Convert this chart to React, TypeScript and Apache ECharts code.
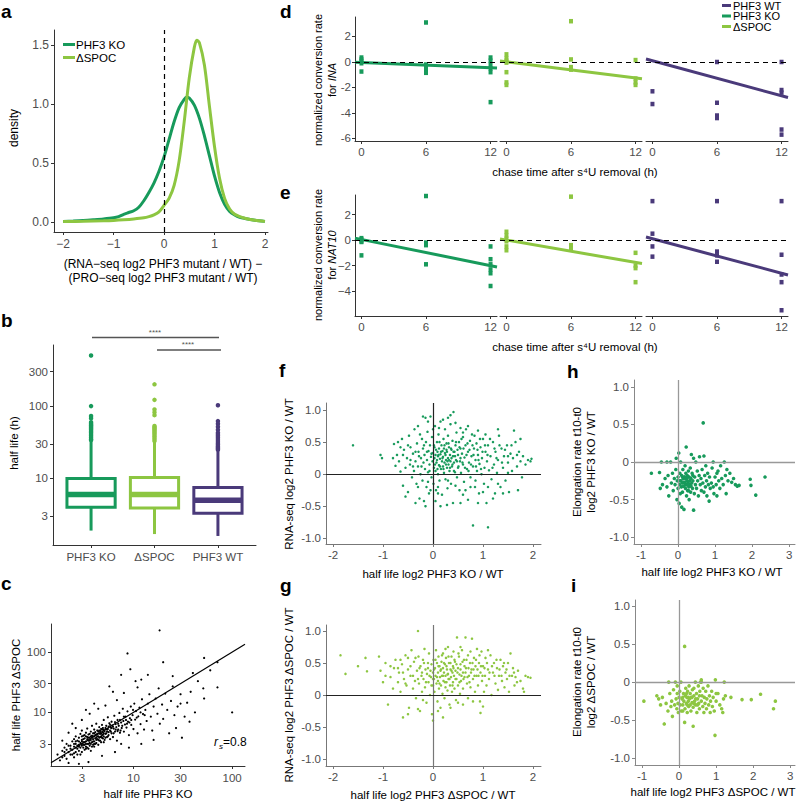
import React, { useEffect, useRef } from 'react';
import * as echarts from 'echarts';

const FONT = '"Liberation Sans", Arial, Helvetica, sans-serif';
const C_KO = '#179a5b';
const C_SPOC = '#8dc641';
const C_WT = '#4a3a7a';
const TICK = '#4d4d4d';

// ---------- panel a : density curves ----------
const densKO: number[][] = [[-2,0.005],[-1.8,0.008],[-1.6,0.012],[-1.4,0.018],[-1.2,0.025],[-1,0.035],[-0.9,0.045],[-0.8,0.065],[-0.7,0.08],[-0.6,0.095],[-0.5,0.125],[-0.4,0.18],[-0.3,0.25],[-0.2,0.33],[-0.1,0.43],[0,0.55],[0.1,0.7],[0.2,0.85],[0.3,0.97],[0.4,1.04],[0.45,1.06],[0.5,1.05],[0.6,0.99],[0.7,0.88],[0.8,0.73],[0.9,0.56],[1.0,0.39],[1.1,0.25],[1.2,0.15],[1.3,0.09],[1.4,0.06],[1.5,0.04],[1.6,0.03],[1.8,0.015],[2,0.005]];
const densSPOC: number[][] = [[-2,0.004],[-1.6,0.006],[-1.2,0.01],[-1,0.013],[-0.8,0.018],[-0.6,0.025],[-0.4,0.035],[-0.3,0.045],[-0.2,0.06],[-0.1,0.085],[0,0.14],[0.1,0.2],[0.2,0.31],[0.3,0.52],[0.4,0.85],[0.5,1.22],[0.6,1.48],[0.65,1.54],[0.7,1.52],[0.8,1.33],[0.9,0.98],[1.0,0.64],[1.1,0.37],[1.2,0.2],[1.3,0.11],[1.4,0.065],[1.5,0.045],[1.6,0.032],[1.8,0.015],[2,0.005]];
const aTicksX = [-2, -1, 0, 1, 2];
const aTicksY = [0, 0.5, 1, 1.5];

// ---------- panel b : half-life boxplots ----------
const bCategories = ['PHF3 KO', 'ΔSPOC', 'PHF3 WT'];
// [lower whisker, Q1, median, Q3, upper whisker]
const bBoxKO = [1.9, 4.0, 6.0, 10.0, 33];
const bBoxSPOC = [1.7, 3.9, 6.0, 10.3, 32];
const bBoxWT = [1.6, 3.3, 5.0, 7.5, 24];
const bOutKO = [500, 100, 73, 68, 60, 57, 55, 53, 51, 49, 47, 45, 43, 41, 39, 37, 35, 34];
const bOutSPOC = [200, 122, 90, 82, 75, 53, 51, 49, 47, 45, 43, 41, 39, 37, 35, 33];
const bOutWT = [103, 62, 57, 52, 47, 43, 41, 39, 37, 35, 33, 31, 29.5, 28, 27, 26, 25];
const bTicks = [3, 10, 30, 100, 300];

// ---------- panel c : half life KO vs ΔSPOC ----------
const cTicks = [3, 10, 30, 100];
const cFit = { slope: 1.0, intercept: 0.0 }; // in log10 space
const cPts: number[][] = [
[1.8,1.6],[1.9,2.3],[2.0,1.9],[2.0,2.6],[2.1,1.7],[2.1,3.0],[2.2,2.2],[2.2,4.6],[2.3,2.0],[2.3,2.8],[2.4,2.4],[2.4,3.3],[2.5,1.8],[2.5,2.7],[2.5,3.6],[2.6,2.2],[2.6,3.0],[2.6,4.0],[2.7,2.5],[2.7,3.4],[2.7,2.0],[2.8,2.9],[2.8,3.8],[2.8,2.3],[2.9,3.1],[2.9,2.6],[2.9,4.4],[3.0,2.8],[3.0,3.5],[3.0,2.2],[3.0,5.0],[3.1,3.2],[3.1,2.6],[3.1,4.1],[3.2,2.9],[3.2,3.7],[3.2,2.4],[3.3,3.3],[3.3,4.6],[3.3,2.7],[3.4,3.0],[3.4,3.9],[3.4,5.4],[3.5,2.5],[3.5,3.4],[3.5,4.3],[3.6,3.1],[3.6,2.8],[3.6,3.8],[3.7,4.8],[3.7,3.5],[3.7,2.3],[3.8,3.2],[3.8,4.1],[3.8,6.0],[3.9,3.6],[3.9,2.9],[3.9,4.5],[4.0,3.3],[4.0,4.0],[4.0,5.2],[4.0,2.7],[4.1,3.7],[4.1,4.7],[4.2,3.1],[4.2,4.3],[4.2,6.5],[4.3,3.6],[4.3,5.0],[4.4,4.0],[4.4,2.9],[4.5,4.5],[4.5,3.4],[4.5,5.7],[4.6,3.9],[4.6,4.9],[4.7,3.2],[4.7,5.3],[4.8,4.2],[4.8,6.2],[4.9,3.7],[4.9,4.7],[5.0,5.1],[5.0,4.0],[5.0,7.5],[5.1,3.5],[5.2,5.5],[5.2,4.4],[5.3,6.0],[5.4,3.9],[5.4,4.8],[5.5,5.3],[5.5,8.3],[5.6,4.2],[5.7,6.6],[5.8,5.0],[5.8,3.6],[5.9,5.6],[6.0,4.5],[6.0,7.0],[6.1,6.1],[6.2,3.9],[6.3,5.4],[6.4,8.8],[6.5,4.8],[6.6,6.4],[6.7,5.7],[6.8,3.4],[6.9,7.5],[7.0,5.2],[7.1,6.0],[7.2,9.8],[7.3,4.6],[7.5,6.8],[7.6,5.5],[7.8,11.5],[7.9,7.2],[8.0,4.8],[8.2,6.3],[8.3,8.5],[8.5,5.6],[8.7,10.4],[8.8,7.0],[9.0,4.2],[9.2,8.0],[9.4,12.5],[9.5,6.2],[9.8,9.0],[10.0,5.3],[10.2,14.0],[10.4,7.6],[10.6,10.5],[11.0,4.5],[11.2,8.6],[11.5,12.0],[11.8,6.4],[12.2,16.5],[12.5,9.4],[12.8,5.2],[13.2,11.0],[13.6,7.2],[14.0,14.0],[14.5,20.0],[15.0,8.5],[15.5,5.0],[16.0,12.5],[16.8,17.0],[17.5,9.5],[18.0,25.0],[18.5,6.5],[19.5,13.5],[20.0,7.8],[21.0,20.5],[22.0,11.0],[23.0,4.5],[24.0,15.5],[25.0,27.0],[26.0,9.0],[27.0,5.5],[28.0,12.5],[30.0,20.0],[31.0,3.8],[33.0,8.5],[35.0,14.5],[37.0,7.0],[40.0,45.0],[42.0,10.0],[52.0,80.0],[52.0,17.0],[51.0,25.0],[71.0,68.0],[71.0,26.0],[100.0,10.0],[18.4,230],[8.7,95],[20,68],[9.3,52],[7.5,42],[5.7,27],[12,35],[14,42],[3.3,11],[2.4,6.5],[4.0,14],[6.2,22],[10.5,33],[16,3.5],[12,3.0],[9,2.6],[6.5,2.2],[4.8,1.9],[3.5,1.5],[2.8,1.4],[7.5,3.0],[2.2,1.45],[1.7,2.0],[1.9,3.4],[2.6,5.5],[3.0,7.5],[3.6,9.5],[4.4,11.5],[5.2,13.0],[6.8,16.0],[8.0,21.0],[11.0,26.0],[25,40],[45,33],[30,14],[38,22],[60,50],
[2.5,2.1],[2.6,2.6],[2.8,2.7],[3.0,3.0],[3.1,3.6],[3.2,3.2],[3.3,2.5],[3.4,3.6],[3.5,3.0],[3.6,4.4],[3.7,3.0],[3.8,3.8],[3.9,3.3],[4.0,4.5],[4.1,3.0],[4.2,3.8],[4.3,4.4],[4.4,3.5],[4.5,5.0],[4.6,4.4],[4.7,4.0],[4.8,5.2],[4.9,4.3],[5.0,3.2],[5.1,4.9],[5.3,4.5],[5.5,4.0],[5.6,5.8],[5.9,4.8],[6.2,5.8],[6.5,6.9],[6.9,4.9],[7.3,7.5],[7.7,6.0],[8.4,7.5],[9.1,6.8],[9.9,11.0],[10.8,8.2],[11.8,10.0],[13.0,9.0],
[2.4,2.0],[2.5,3.0],[2.7,2.8],[2.8,3.3],[2.9,2.0],[3.0,3.3],[3.1,2.9],[3.2,4.2],[3.3,3.0],[3.4,2.6],[3.5,3.8],[3.6,3.4],[3.7,4.0],[3.8,2.7],[3.9,4.0],[4.0,3.0],[4.1,4.2],[4.2,3.5],[4.3,4.0],[4.4,4.8],[4.5,3.8],[4.6,3.4],[4.7,4.5],[4.8,3.8],[4.9,5.5],[5.0,4.5],[5.2,3.8],[5.4,5.2],[5.6,4.7],[5.8,6.2],[6.0,5.5],[6.3,4.5],[6.6,5.2],[7.0,6.5],[7.4,5.0],[8.0,8.5],[8.6,6.5],[9.5,7.5],[3.0,4.0],[3.3,4.0],[2.6,3.3],[2.3,2.5],[2.0,2.2],[1.9,1.8],[2.1,2.4],[2.2,2.8]
];

// ---------- panels d / e : conversion rate vs chase time ----------
const chaseTicks = [0, 6, 12];
const dKO: number[][] = [[0,0.35],[0,0.2],[0,0.05],[0,-0.1],[0,-0.75],[6,3.1],[6,-0.2],[6,-0.5],[6,-0.65],[6,-0.85],[12,0.35],[12,0.1],[12,-0.2],[12,-0.5],[12,-0.8],[12,-3.15]];
const dSPOC: number[][] = [[0,0.6],[0,0.3],[0,0.1],[0,-0.05],[0,-0.8],[0,-1.6],[0,-1.8],[6,3.2],[6,0.2],[6,-0.4],[6,-0.6],[12,0.15],[12,-1.3],[12,-1.6],[12,-1.8]];
const dWT: number[][] = [[0,-2.3],[0,-3.3],[6,0],[6,-3.2],[6,-4.2],[6,-4.4],[12,0],[12,-2.2],[12,-2.4],[12,-5.3],[12,-5.7]];
const eKO: number[][] = [[0,0.15],[0,0.05],[0,-0.1],[0,-0.15],[0,-1.2],[6,3.45],[6,-0.2],[6,-0.4],[6,-1.9],[12,-0.5],[12,-1.5],[12,-1.9],[12,-2.3],[12,-2.6],[12,-3.6]];
const eSPOC: number[][] = [[0,0.65],[0,0.35],[0,0.1],[0,-0.1],[0,-0.5],[0,-0.8],[6,3.4],[6,-0.4],[6,-0.7],[12,-1.0],[12,-2.0],[12,-2.2],[12,-3.3]];
const eWT: number[][] = [[0,3.05],[0,0.5],[0,-0.5],[0,-1.3],[6,3.05],[6,-0.9],[6,-1.2],[6,-1.7],[12,3.05],[12,-1.15],[12,-2.7],[12,-3.3],[12,-5.5]];
// linear fits: [intercept, slope per h]
const dFitKO = [-0.05, -0.033];
const dFitSPOC = [0.02, -0.106];
const dFitWT = [0.1, -0.229];
const eFitKO = [0.05, -0.171];
const eFitSPOC = [0.0, -0.146];
const eFitWT = [0.1, -0.225];

// ---------- panels f / g ----------
const fPts: number[][] = [
[-1.6,0.45],[-1.05,0.3],[-1.02,0.25],[-0.78,0.47],[-0.75,0.13],[-0.72,0.3],[-0.7,0.5],[-0.68,0.2],[-0.65,0.04],[-0.62,0.55],[-0.6,-0.18],[-0.58,0.38],[-0.55,0.1],[-0.52,0.25],[-0.5,-0.28],[-0.48,0.6],[-0.46,0.15],[-0.45,0.42],[-0.42,-0.05],[-0.4,0.32],[-0.38,0.05],[-0.37,0.7],[-0.35,0.2],[-0.33,-0.15],[-0.32,0.48],[-0.3,0.12],[-0.29,0.35],[-0.27,-0.38],[-0.26,0.62],[-0.25,0.0],[-0.24,0.25],[-0.22,0.55],[-0.21,-0.1],[-0.2,0.4],[-0.19,0.18],[-0.18,-0.42],[-0.17,0.3],[-0.16,0.08],[-0.15,0.88],[-0.14,0.5],[-0.13,-0.2],[-0.12,0.22],[-0.11,0.66],[-0.1,0.03],[-0.09,0.36],[-0.08,-0.3],[-0.07,0.15],[-0.06,0.45],[-0.05,0.9],[-0.04,0.27],[-0.03,-0.05],[-0.02,0.58],[-0.01,0.2],[0.0,0.33],[0.01,-0.15],[0.02,0.1],[0.03,0.42],[0.03,0.25],[0.04,0.75],[0.05,0.05],[0.05,0.3],[0.06,-0.25],[0.07,0.18],[0.08,0.5],[0.08,0.22],[0.09,0.35],[0.1,0.0],[0.1,0.28],[0.11,0.62],[0.12,0.14],[0.12,0.4],[0.13,-0.1],[0.14,0.24],[0.15,0.31],[0.15,0.82],[0.16,0.08],[0.17,0.45],[0.18,0.2],[0.18,-0.32],[0.19,0.36],[0.2,0.12],[0.2,0.27],[0.21,0.55],[0.22,0.02],[0.22,0.4],[0.23,0.18],[0.24,0.7],[0.25,0.3],[0.25,-0.08],[0.26,0.22],[0.27,0.48],[0.28,0.1],[0.28,0.35],[0.29,-0.22],[0.3,0.25],[0.3,0.6],[0.31,0.15],[0.32,0.42],[0.33,0.05],[0.34,0.3],[0.35,0.78],[0.35,0.2],[0.36,-0.15],[0.37,0.38],[0.38,0.12],[0.39,0.52],[0.4,0.28],[0.4,-0.45],[0.41,0.97],[0.42,0.18],[0.43,0.35],[0.44,0.03],[0.45,0.45],[0.46,0.22],[0.47,0.65],[0.48,-0.05],[0.5,0.3],[0.5,0.1],[0.52,0.5],[0.53,-0.25],[0.54,0.2],[0.55,0.4],[0.56,0.02],[0.58,0.32],[0.6,0.58],[0.6,0.15],[0.62,-0.12],[0.63,0.26],[0.65,0.45],[0.66,0.7],[0.68,0.08],[0.7,0.35],[0.7,-0.4],[0.72,0.18],[0.74,0.52],[0.75,-0.05],[0.77,0.28],[0.78,0.62],[0.8,0.12],[0.8,-0.8],[0.82,0.4],[0.84,-0.2],[0.85,0.22],[0.87,0.48],[0.88,0.05],[0.9,0.3],[0.92,-0.3],[0.93,0.16],[0.95,0.42],[0.97,0.0],[0.98,0.25],[1.0,0.55],[1.02,-0.15],[1.03,0.1],[1.05,0.35],[1.07,-0.45],[1.08,0.2],[1.1,-0.83],[1.1,0.45],[1.12,0.06],[1.15,0.28],[1.17,-0.08],[1.2,0.5],[1.22,0.15],[1.24,-0.3],[1.25,0.35],[1.28,0.02],[1.3,0.22],[1.32,0.6],[1.35,-0.2],[1.37,0.4],[1.4,0.1],[1.42,0.28],[1.45,-0.1],[1.48,0.45],[1.5,0.18],[1.52,-0.28],[1.55,0.32],[1.58,0.05],[1.6,0.25],[1.62,0.68],[1.65,0.5],[1.68,0.12],[1.7,-0.25],[1.72,0.35],[1.75,0.2],[1.78,-0.05],[1.8,0.28],[1.85,0.15],[1.9,0.22],[1.95,0.2],[1.97,0.24],
[-0.35,-0.45],[-0.15,-0.5],[0.05,-0.42],[0.15,-0.5],[0.28,-0.48],[0.55,-0.45],[0.9,-0.45],[1.2,-0.38],[1.4,-0.3],[-0.55,-0.35],[-0.05,-0.25],[0.1,-0.2],[0.6,-0.32],[0.75,-0.2],[1.0,-0.28],
[-0.3,0.75],[-0.1,0.82],[0.0,0.7],[0.12,0.72],[0.2,0.85],[0.3,0.88],[0.45,0.8],[0.55,0.72],[0.7,0.75],[0.9,0.68],[1.05,0.62],[1.3,0.7],[0.35,0.92],[-0.2,0.9],[0.6,0.65],
[-0.28,0.28],[-0.23,0.12],[-0.18,0.45],[-0.12,0.35],[-0.07,0.05],[-0.03,0.32],[0.02,0.45],[0.04,0.15],[0.06,0.38],[0.09,0.08],[0.11,0.3],[0.13,0.5],[0.14,0.12],[0.16,0.35],[0.19,0.25],[0.21,0.08],[0.23,0.45],[0.24,0.33],[0.26,0.15],[0.27,0.38],[0.29,0.2],[0.31,0.48],[0.32,0.22],[0.34,0.1],[0.36,0.4],[0.37,0.25],[0.39,0.15],[0.41,0.35],[0.42,0.05],[0.44,0.28],[0.46,0.5],[0.48,0.2],[0.49,0.38],[0.51,0.12],[0.53,0.42],[0.55,0.25],[0.57,0.55],[0.59,0.18],[0.61,0.4],[0.64,0.1],[0.67,0.3],[0.69,0.48],[0.71,0.05],[0.73,0.38],[0.76,0.15],[0.79,0.45],[0.81,0.3],[0.83,0.6],[0.86,0.12],[0.89,0.38],[0.91,0.22],[0.94,0.55],[0.96,0.08],[0.99,0.35],[1.04,0.45],[1.09,0.3],[1.14,0.55],[1.19,0.1],[1.23,0.4],[1.27,0.25],[1.33,0.45],[1.38,0.18],[1.44,0.38],[1.5,0.28],[1.57,0.45],[-0.45,0.22],[-0.5,0.45],[-0.4,0.12],[-0.35,0.35],[-0.6,0.3],[-0.65,0.42],[-0.8,0.25],[-0.3,-0.2],[-0.1,-0.12],[0.1,-0.3],[0.3,-0.1],[0.45,-0.18],[0.65,-0.25],[0.85,-0.1],[1.1,-0.2],[1.3,-0.15],[1.5,0.02],[1.68,0.3],[1.75,0.55]
];
const gPts: number[][] = [
[-1.85,0.62],[-1.75,0.33],[-1.5,0.45],[-1.35,0.58],[-1.32,0.37],[-1.08,0.6],[-1.05,0.38],[-1.0,0.2],[-0.95,0.5],[-0.9,-0.15],[-0.85,0.28],[-0.8,0.1],[-0.78,0.42],[-0.75,0.55],[-0.7,0.2],[-0.68,0.35],[-0.65,0.05],[-0.62,0.48],[-0.6,-0.35],[-0.58,0.25],[-0.55,0.62],[-0.53,0.15],[-0.5,0.4],[-0.48,-0.2],[-0.45,0.3],[-0.43,0.7],[-0.4,0.1],[-0.38,0.52],[-0.36,0.22],[-0.34,-0.05],[-0.32,0.38],[-0.3,1.0],[-0.29,0.6],[-0.28,0.18],[-0.26,-0.25],[-0.25,0.45],[-0.23,0.3],[-0.22,0.05],[-0.2,0.55],[-0.19,0.25],[-0.17,0.72],[-0.16,0.12],[-0.15,0.4],[-0.13,-0.12],[-0.12,0.33],[-0.1,0.5],[-0.09,0.2],[-0.08,0.65],[-0.06,0.0],[-0.05,0.38],[-0.04,0.28],[-0.03,0.48],[-0.02,-0.3],[0.0,0.15],[0.0,0.35],[0.0,-0.4],[0.01,0.55],[0.02,0.25],[0.03,0.05],[0.04,0.42],[0.05,0.3],[0.06,0.7],[0.07,0.18],[0.08,0.5],[0.09,-0.1],[0.1,0.35],[0.1,0.22],[0.11,0.6],[0.12,0.1],[0.13,0.45],[0.14,0.28],[0.15,-0.2],[0.15,0.38],[0.16,0.15],[0.17,0.52],[0.18,0.3],[0.19,0.02],[0.2,0.42],[0.2,0.65],[0.21,0.22],[0.22,0.35],[0.23,-0.05],[0.24,0.48],[0.25,0.12],[0.25,0.3],[0.26,0.58],[0.27,0.2],[0.28,0.4],[0.29,0.07],[0.3,0.33],[0.3,0.75],[0.31,0.25],[0.32,0.5],[0.33,-0.15],[0.34,0.15],[0.35,0.4],[0.36,0.28],[0.37,0.6],[0.38,0.05],[0.39,0.35],[0.4,0.45],[0.4,0.2],[0.41,0.68],[0.42,0.3],[0.43,0.1],[0.44,0.52],[0.45,0.38],[0.46,-0.08],[0.47,0.25],[0.48,0.9],[0.5,0.42],[0.5,0.15],[0.52,0.6],[0.53,0.32],[0.54,0.02],[0.55,0.48],[0.56,0.22],[0.58,0.7],[0.6,0.35],[0.6,0.1],[0.62,0.55],[0.63,0.28],[0.65,0.9],[0.66,0.42],[0.68,0.18],[0.7,0.62],[0.7,-0.05],[0.72,0.3],[0.74,0.5],[0.75,0.12],[0.77,0.4],[0.78,0.88],[0.8,0.25],[0.82,0.58],[0.84,0.05],[0.85,0.45],[0.87,0.3],[0.88,0.72],[0.9,0.15],[0.92,0.5],[0.94,-0.1],[0.95,0.35],[0.97,0.68],[0.98,0.22],[1.0,0.45],[1.02,0.05],[1.04,0.3],[1.05,0.58],[1.07,0.15],[1.1,0.4],[1.12,0.25],[1.15,0.62],[1.17,0.0],[1.2,0.35],[1.22,0.5],[1.25,0.18],[1.28,0.42],[1.3,0.08],[1.32,0.3],[1.35,0.55],[1.38,0.22],[1.4,0.45],[1.43,0.12],[1.45,0.35],[1.48,0.25],[1.5,0.5],[1.52,0.05],[1.55,0.65],[1.58,0.3],[1.6,0.42],[1.63,0.15],[1.65,0.28],[1.7,0.38],[1.75,0.22],[1.8,0.1],[1.82,0.05],[1.85,0.3],[1.9,0.28],[1.95,0.27],
[-0.5,-0.3],[-0.3,-0.22],[0.1,-0.25],[0.2,-0.35],[0.35,-0.2],[0.5,-0.12],[0.8,-0.1],[0.95,-0.28],[1.0,-0.18],[-0.2,-0.08],[0.6,-0.15],
[-0.45,0.45],[-0.4,0.3],[-0.35,0.58],[-0.3,0.25],[-0.27,0.42],[-0.22,0.35],[-0.18,0.5],[-0.14,0.2],[-0.1,0.42],[-0.07,0.3],[-0.03,0.15],[0.02,0.4],[0.05,0.55],[0.08,0.28],[0.11,0.45],[0.13,0.18],[0.16,0.4],[0.18,0.62],[0.2,0.3],[0.22,0.5],[0.24,0.2],[0.27,0.45],[0.29,0.32],[0.31,0.6],[0.33,0.25],[0.35,0.5],[0.37,0.38],[0.39,0.15],[0.41,0.42],[0.43,0.55],[0.45,0.25],[0.47,0.48],[0.49,0.35],[0.51,0.65],[0.53,0.2],[0.55,0.4],[0.57,0.3],[0.59,0.52],[0.61,0.25],[0.63,0.45],[0.65,0.35],[0.67,0.55],[0.69,0.28],[0.71,0.42],[0.73,0.2],[0.76,0.35],[0.79,0.5],[0.81,0.4],[0.83,0.3],[0.86,0.55],[0.89,0.4],[0.91,0.3],[0.93,0.62],[0.96,0.45],[0.99,0.3],[1.03,0.42],[1.08,0.5],[1.13,0.35],[1.18,0.45],[1.23,0.3],[1.27,0.55],[1.33,0.4],[1.37,0.3],[1.42,0.5],[1.47,0.4],[1.53,0.3],[1.62,0.35],[1.68,0.2],[-0.6,0.35],[-0.65,0.55],[-0.7,0.42],[-0.85,0.45],[-0.95,0.3],[-0.55,0.18],[-0.5,0.58],[0.0,0.25],[0.25,0.72],[0.55,0.75],[0.75,0.68],[1.1,0.7]
];
const fgTicksX = [-2, -1, 0, 1, 2];
const unitTicksY = [-1, -0.5, 0, 0.5, 1];

// ---------- panels h / i ----------
const hPts: number[][] = [
[-0.72,-0.15],[-0.5,-0.14],[-0.48,-0.35],[-0.45,0.0],[-0.42,-0.3],[-0.35,-0.22],[-0.3,-0.33],[-0.27,-0.18],[-0.25,-0.45],[-0.2,0.0],[-0.18,-0.28],[-0.15,-0.15],[-0.13,-0.38],[-0.1,-0.22],[-0.08,-0.3],[-0.06,-0.1],[-0.05,0.05],[-0.03,-0.5],[-0.02,-0.25],[0.0,-0.2],[0.0,-0.35],[0.02,0.12],[0.03,-0.55],[0.04,-0.3],[0.05,-0.15],[0.06,-0.42],[0.07,0.0],[0.08,-0.25],[0.09,-0.33],[0.1,-0.6],[0.1,-0.18],[0.11,-0.28],[0.12,-0.4],[0.13,-0.1],[0.14,-0.22],[0.15,-0.32],[0.16,-0.63],[0.17,-0.2],[0.18,-0.27],[0.19,-0.05],[0.2,-0.35],[0.2,-0.22],[0.21,-0.15],[0.22,0.2],[0.22,-0.3],[0.23,-0.45],[0.24,-0.25],[0.25,-0.18],[0.26,-0.38],[0.27,-0.28],[0.28,-0.12],[0.29,-0.33],[0.3,-0.2],[0.3,-0.5],[0.31,-0.25],[0.32,-0.3],[0.33,-0.08],[0.34,-0.4],[0.35,-0.22],[0.36,0.1],[0.37,-0.28],[0.38,-0.15],[0.39,-0.35],[0.4,-0.25],[0.42,-0.64],[0.42,0.05],[0.44,-0.42],[0.45,-0.2],[0.47,-0.3],[0.48,0.0],[0.5,-0.35],[0.52,-0.12],[0.53,-0.25],[0.55,-0.45],[0.57,-0.18],[0.58,0.07],[0.6,-0.3],[0.62,-0.22],[0.63,-0.38],[0.65,-0.1],[0.67,-0.28],[0.68,0.52],[0.7,-0.4],[0.72,-0.18],[0.74,-0.33],[0.75,-0.05],[0.77,-0.25],[0.78,-0.45],[0.8,-0.15],[0.82,-0.3],[0.84,-0.52],[0.85,-0.2],[0.87,-0.35],[0.9,-0.28],[0.92,-0.08],[0.95,-0.33],[0.97,-0.42],[1.0,-0.2],[1.03,-0.3],[1.05,-0.45],[1.08,-0.12],[1.1,-0.25],[1.13,-0.35],[1.15,-0.05],[1.18,-0.22],[1.22,-0.3],[1.25,0.0],[1.28,-0.18],[1.3,-0.42],[1.32,-0.1],[1.35,-0.25],[1.4,-0.15],[1.45,-0.27],[1.5,-0.22],[1.55,-0.3],[1.6,-0.32],[1.65,-0.31],[1.95,-0.23],[1.97,-0.31],[2.1,-0.44],[2.35,-0.2],
[0.15,-0.27],[0.18,-0.2],[0.2,-0.3],[0.23,-0.22],[0.25,-0.3],[0.27,-0.2],[0.3,-0.3],[0.12,-0.2],[0.28,-0.38],[0.05,-0.25],[0.35,-0.32],[0.4,-0.18],[-0.3,0.0],[0.7,0.08],[0.95,0.0],[1.05,-0.15]
];
const iPts: number[][] = [
[-0.95,-0.25],[-0.6,-0.18],[-0.55,-0.22],[-0.5,-0.3],[-0.45,-0.2],[-0.4,-0.55],[-0.35,-0.28],[-0.3,-0.38],[-0.28,0.0],[-0.25,-0.15],[-0.22,-0.32],[-0.2,-0.25],[-0.18,-0.45],[-0.15,-0.1],[-0.12,-0.3],[-0.1,0.0],[-0.08,-0.22],[-0.06,-0.35],[-0.05,-0.15],[-0.03,-0.28],[-0.02,-0.4],[0.0,-0.2],[0.02,-0.12],[0.03,-0.3],[0.05,0.0],[0.06,-0.38],[0.08,-0.22],[0.1,-0.3],[0.12,-0.15],[0.13,-0.25],[0.15,0.47],[0.15,-0.53],[0.16,-0.35],[0.17,-0.18],[0.18,-0.08],[0.2,-0.28],[0.21,-0.2],[0.22,-0.4],[0.23,-0.12],[0.25,-0.25],[0.26,-0.32],[0.27,-0.05],[0.28,-0.22],[0.3,-0.3],[0.3,-0.15],[0.32,-0.38],[0.33,-0.2],[0.35,-0.27],[0.36,-0.1],[0.38,-0.58],[0.38,-0.33],[0.4,-0.18],[0.42,-0.25],[0.44,0.0],[0.45,-0.3],[0.47,-0.15],[0.48,-0.4],[0.5,-0.22],[0.52,-0.05],[0.53,-0.28],[0.55,-0.35],[0.56,-0.12],[0.58,0.0],[0.6,-0.25],[0.6,0.03],[0.62,-0.18],[0.64,-0.32],[0.65,-0.08],[0.67,-0.4],[0.68,-0.2],[0.7,-0.28],[0.72,-0.12],[0.74,-0.35],[0.75,-0.22],[0.78,-0.05],[0.8,-0.3],[0.82,-0.18],[0.84,-0.4],[0.85,-0.25],[0.88,-0.12],[0.9,-0.32],[0.92,-0.2],[0.95,-0.38],[0.97,-0.7],[0.98,0.03],[1.0,-0.25],[1.05,-0.15],[1.1,-0.3],[1.15,-0.35],[1.18,-0.4],[1.2,-0.22],[1.25,-0.18],[1.22,0.0],[1.4,-0.2],[1.7,-0.23],[1.95,-0.23],[2.2,-0.16],[2.55,-0.35],[2.6,-0.25],
[0.1,-0.2],[0.2,-0.15],[0.25,-0.2],[0.35,-0.2],[0.4,-0.28],[0.45,-0.22],[0.5,-0.3],[0.55,-0.18],[0.22,-0.3],[-0.05,-0.05],[0.6,0.0],[0.4,-0.08],[1.0,-0.15],[0.1,-0.38]
];
const hiTicksX = [-1, 0, 1, 2, 3];

// ---------------------------------------------------------------
const lg = Math.log10;
const minusFmt = (v: number) => (v < 0 ? '\u2212' + Math.abs(v) : String(v));
const hyphenFmt = (v: number) => String(v);
const unitFmt = (v: number) => (Math.abs(v) < 1e-9 ? '0' : v.toFixed(1));
const logFmt = (v: number) => String(Math.round(Math.pow(10, v)));

function axis(grid: number, min: number, max: number, ticks: number[] | null, fmt: (v: number) => string, o: any = {}) {
  const lc = o.lineColor || '#333';
  return {
    type: 'value', gridIndex: grid, min, max, scale: true,
    axisLine: { show: o.line !== false, onZero: false, lineStyle: { color: lc, width: o.lw || 1 } },
    axisTick: ticks ? { show: true, length: 3, inside: false, customValues: ticks, lineStyle: { color: lc } } : { show: false },
    axisLabel: ticks
      ? { show: true, customValues: ticks, formatter: fmt, color: TICK, fontSize: o.fs || 11.5, fontFamily: FONT, margin: o.margin ?? 5 }
      : { show: false },
    splitLine: { show: false },
  };
}

const txt = (text: string, x: number, y: number, o: any = {}) => ({
  type: 'text', x, y, rotation: o.rot || 0, silent: true, z: 10,
  style: {
    text, fill: o.color || '#000', fontSize: o.fs || 11.5, fontFamily: FONT,
    fontWeight: o.fw || 'normal', fontStyle: o.italic ? 'italic' : 'normal',
    align: o.align || 'center', verticalAlign: o.va || 'middle', rich: o.rich,
  },
});
const ln = (x1: number, y1: number, x2: number, y2: number, color: string, w: number) => ({
  type: 'line', silent: true, z: 10, shape: { x1, y1, x2, y2 }, style: { stroke: color, lineWidth: w },
});

function buildOption() {
  const grids = [
    [54, 30, 214, 202],   // a
    [53, 345, 203, 200],  // b
    [51, 624, 194, 142],  // c
    [355, 17, 142, 124],  // d1
    [500, 17, 142, 124],  // d2
    [646, 17, 142, 124],  // d3
    [355, 195, 142, 121], // e1
    [500, 195, 142, 121], // e2
    [646, 195, 142, 121], // e3
    [326, 403, 215, 141], // f
    [326, 625, 215, 141], // g
    [634, 380, 161, 164], // h
    [635, 600, 160, 165], // i
  ].map(([left, top, width, height]) => ({ left, top, width, height, containLabel: false, outerBoundsMode: 'none' }));

  const CH_MIN = -0.6, CH_MAX = 12.6;
  const xAxis: any[] = [
    axis(0, -2.18, 2.06, aTicksX, minusFmt, { fs: 12, margin: 6 }),
    axis(1, 0.4, 3.6, [1, 2, 3], (v) => bCategories[Math.round(v) - 1], { margin: 6 }),
    axis(2, lg(1.46), lg(135), cTicks.map(lg), logFmt, { margin: 6 }),
  ];
  const yAxis: any[] = [
    axis(0, -0.085, 1.627, aTicksY, (v) => v.toFixed(1), { fs: 12, margin: 5 }),
    axis(1, lg(1.2), lg(700), bTicks.map(lg), logFmt, { margin: 5 }),
    axis(2, lg(1.29), lg(293), cTicks.map(lg), logFmt, { margin: 5 }),
  ];
  for (let k = 0; k < 3; k++) {
    xAxis.push(axis(3 + k, CH_MIN, CH_MAX, chaseTicks, hyphenFmt, { margin: 5 }));
    yAxis.push(k === 0 ? axis(3, -6.2, 3.53, [2, 0, -2, -4, -6], hyphenFmt, { margin: 4 }) : axis(3 + k, -6.2, 3.53, null, hyphenFmt, { line: false }));
  }
  for (let k = 0; k < 3; k++) {
    xAxis.push(axis(6 + k, CH_MIN, CH_MAX, chaseTicks, hyphenFmt, { margin: 5 }));
    yAxis.push(k === 0 ? axis(6, -5.95, 3.53, [2, 0, -2, -4], minusFmt, { margin: 4 }) : axis(6 + k, -5.95, 3.53, null, minusFmt, { line: false }));
  }
  const FG = '#777';
  xAxis.push(axis(9, -2.14, 2.16, fgTicksX, hyphenFmt, { lineColor: FG, margin: 5 }));
  yAxis.push(axis(9, -1.09, 1.11, unitTicksY, unitFmt, { lineColor: FG, margin: 5 }));
  xAxis.push(axis(10, -2.14, 2.16, fgTicksX, hyphenFmt, { lineColor: FG, margin: 5 }));
  yAxis.push(axis(10, -1.11, 1.094, unitTicksY, unitFmt, { lineColor: FG, margin: 5 }));
  xAxis.push(axis(11, -1.19, 3.16, hiTicksX, hyphenFmt, { lineColor: '#888', margin: 5 }));
  yAxis.push(axis(11, -1.09, 1.09, unitTicksY, unitFmt, { lineColor: '#888', margin: 5 }));
  xAxis.push(axis(12, -1.19, 3.13, hiTicksX, hyphenFmt, { lineColor: '#888', margin: 5 }));
  yAxis.push(axis(12, -1.09, 1.08, unitTicksY, unitFmt, { lineColor: '#888', margin: 5 }));

  const series: any[] = [];
  // a
  series.push({ type: 'line', name: 'PHF3 KO', xAxisIndex: 0, yAxisIndex: 0, data: densKO, smooth: 0.3, showSymbol: false, symbol: 'none',
    lineStyle: { color: C_KO, width: 3 }, itemStyle: { color: C_KO }, z: 3,
    markLine: { silent: true, symbol: 'none', label: { show: false }, lineStyle: { type: [5, 4], color: '#000', width: 1.2 }, data: [{ xAxis: 0 }] } });
  series.push({ type: 'line', name: 'ΔSPOC', xAxisIndex: 0, yAxisIndex: 0, data: densSPOC, smooth: 0.3, showSymbol: false, symbol: 'none',
    lineStyle: { color: C_SPOC, width: 3 }, itemStyle: { color: C_SPOC }, z: 4 });

  // b boxes
  const boxStats = [bBoxKO, bBoxSPOC, bBoxWT];
  const boxColors = [C_KO, C_SPOC, C_WT];
  const BOX_W = 0.76;
  series.push({
    type: 'custom', xAxisIndex: 1, yAxisIndex: 1, z: 3,
    data: boxStats.map((s, i) => [i + 1, ...s.map(lg)]),
    renderItem: (params: any, api: any) => {
      const x = api.value(0);
      const lo = api.coord([x, api.value(1)]);
      const q1 = api.coord([x, api.value(2)]);
      const med = api.coord([x, api.value(3)]);
      const q3 = api.coord([x, api.value(4)]);
      const hi = api.coord([x, api.value(5)]);
      const half = api.size([BOX_W, 0])[0] / 2;
      const c = boxColors[params.dataIndex];
      return {
        type: 'group', children: [
          { type: 'line', shape: { x1: lo[0], y1: lo[1], x2: lo[0], y2: q1[1] }, style: { stroke: c, lineWidth: 3 } },
          { type: 'line', shape: { x1: hi[0], y1: hi[1], x2: hi[0], y2: q3[1] }, style: { stroke: c, lineWidth: 3 } },
          { type: 'rect', shape: { x: q1[0] - half, y: q3[1], width: 2 * half, height: q1[1] - q3[1] }, style: { fill: '#fff', stroke: c, lineWidth: 3 } },
          { type: 'line', shape: { x1: q1[0] - half, y1: med[1], x2: q1[0] + half, y2: med[1] }, style: { stroke: c, lineWidth: 5.5 } },
        ],
      };
    },
  });
  [bOutKO, bOutSPOC, bOutWT].forEach((arr, i) => {
    series.push({ type: 'scatter', xAxisIndex: 1, yAxisIndex: 1, data: arr.map((v) => [i + 1, lg(v)]), symbolSize: 4.5,
      itemStyle: { color: boxColors[i], opacity: 1 }, z: 4 });
  });

  // c
  series.push({ type: 'scatter', xAxisIndex: 2, yAxisIndex: 2, data: cPts.map(([x, y]) => [lg(x), lg(y)]), symbolSize: 2.2,
    itemStyle: { color: '#000', opacity: 1 }, z: 3 });
  const cx0 = lg(1.46), cx1 = lg(135);
  series.push({ type: 'line', xAxisIndex: 2, yAxisIndex: 2, showSymbol: false, symbol: 'none', z: 4,
    data: [[cx0, cFit.slope * cx0 + cFit.intercept], [cx1, cFit.slope * cx1 + cFit.intercept]],
    lineStyle: { color: '#000', width: 1.2 } });

  // d / e
  const facets = [
    { g: 3, pts: dKO, fit: dFitKO, c: C_KO }, { g: 4, pts: dSPOC, fit: dFitSPOC, c: C_SPOC }, { g: 5, pts: dWT, fit: dFitWT, c: C_WT },
    { g: 6, pts: eKO, fit: eFitKO, c: C_KO }, { g: 7, pts: eSPOC, fit: eFitSPOC, c: C_SPOC }, { g: 8, pts: eWT, fit: eFitWT, c: C_WT },
  ];
  facets.forEach((f) => {
    series.push({ type: 'scatter', xAxisIndex: f.g, yAxisIndex: f.g, data: f.pts, symbol: 'rect', symbolSize: [4, 4.5],
      itemStyle: { color: f.c, opacity: 1 }, z: 3,
      markLine: { silent: true, symbol: 'none', label: { show: false }, lineStyle: { type: [5, 4], color: '#000', width: 1.2 }, data: [{ yAxis: 0 }] } });
    series.push({ type: 'line', xAxisIndex: f.g, yAxisIndex: f.g, showSymbol: false, symbol: 'none', z: 4,
      data: [[CH_MIN, f.fit[0] + f.fit[1] * CH_MIN], [CH_MAX, f.fit[0] + f.fit[1] * CH_MAX]],
      lineStyle: { color: f.c, width: 3 } });
  });

  // f g h i
  const cross = (vColor: string, hColor: string, w = 1.2) => ({
    silent: true, symbol: 'none', label: { show: false },
    data: [{ xAxis: 0, lineStyle: { color: vColor, width: w, type: 'solid' } }, { yAxis: 0, lineStyle: { color: hColor, width: w, type: 'solid' } }],
  });
  series.push({ type: 'scatter', xAxisIndex: 9, yAxisIndex: 9, data: fPts, symbolSize: 2.5, itemStyle: { color: C_KO, opacity: 1 }, z: 3, markLine: cross('#222', '#222') });
  series.push({ type: 'scatter', xAxisIndex: 10, yAxisIndex: 10, data: gPts, symbolSize: 2.5, itemStyle: { color: C_SPOC, opacity: 1 }, z: 3, markLine: cross('#777', '#222') });
  series.push({ type: 'scatter', xAxisIndex: 11, yAxisIndex: 11, data: hPts, symbolSize: 3.6, itemStyle: { color: C_KO, opacity: 1 }, z: 3, markLine: cross('#999', '#999', 1.3) });
  series.push({ type: 'scatter', xAxisIndex: 12, yAxisIndex: 12, data: iPts, symbolSize: 3.6, itemStyle: { color: C_SPOC, opacity: 1 }, z: 3, markLine: cross('#999', '#999', 1.3) });

  const R = Math.PI / 2;
  const italicRich = { it: { fontStyle: 'italic', fontSize: 11, fontFamily: FONT, fill: '#000' } };
  const graphic: any[] = [
    // panel letters
    txt('a', 1, 11, { fs: 19, fw: 'bold', align: 'left' }),
    txt('b', 1, 320.5, { fs: 19, fw: 'bold', align: 'left' }),
    txt('c', 1, 583.5, { fs: 19, fw: 'bold', align: 'left' }),
    txt('d', 280, 11, { fs: 19, fw: 'bold', align: 'left' }),
    txt('e', 280, 192.5, { fs: 19, fw: 'bold', align: 'left' }),
    txt('f', 279, 370.5, { fs: 19, fw: 'bold', align: 'left' }),
    txt('g', 280, 585.5, { fs: 19, fw: 'bold', align: 'left' }),
    txt('h', 567, 371.5, { fs: 19, fw: 'bold', align: 'left' }),
    txt('i', 571, 585.5, { fs: 19, fw: 'bold', align: 'left' }),
    // a
    txt('density', 14, 128, { fs: 12, rot: R }),
    txt('(RNA\u2212seq log2 PHF3 mutant / WT) \u2212', 163, 264, { fs: 12 }),
    txt('(PRO\u2212seq log2 PHF3 mutant / WT)', 163, 278, { fs: 12 }),
    ln(63, 44.5, 75, 44.5, C_KO, 3), txt('PHF3 KO', 76, 44.5, { fs: 11.5, align: 'left' }),
    ln(63, 57.5, 75, 57.5, C_SPOC, 3), txt('ΔSPOC', 76, 57.5, { fs: 11.5, align: 'left' }),
    // b
    txt('half life (h)', 14, 443, { rot: R }),
    ln(92, 337.5, 219, 337.5, '#555', 1.5), txt('****', 155, 332, { fs: 8, color: '#555' }),
    ln(157, 350, 221, 350, '#555', 1.5), txt('****', 188, 344.5, { fs: 8, color: '#555' }),
    // c
    txt('half life PHF3 ΔSPOC', 16, 695, { rot: R }),
    txt('half life PHF3 KO', 148, 794),
    txt('r', 214, 742, { fs: 12, italic: true, align: 'left' }),
    txt('s', 219, 746, { fs: 8, italic: true, align: 'left' }),
    txt('=0.8', 223, 742, { fs: 12, align: 'left' }),
    // d
    txt('normalized conversion rate', 318, 80, { fs: 11, rot: R }),
    txt('for {it|INA}', 332, 80, { fs: 11, rot: R, rich: italicRich }),
    txt('chase time after s\u2074U removal (h)', 575, 172),
    ln(722, 5.5, 731, 5.5, C_WT, 3), txt('PHF3 WT', 733, 5.5, { align: 'left', fs: 11 }),
    ln(722, 16, 731, 16, C_KO, 3), txt('PHF3 KO', 733, 16, { align: 'left', fs: 11 }),
    ln(722, 26.5, 731, 26.5, C_SPOC, 3), txt('ΔSPOC', 733, 26.5, { align: 'left', fs: 11 }),
    // e
    txt('normalized conversion rate', 318, 255, { fs: 11, rot: R }),
    txt('for {it|NAT10}', 332, 255, { fs: 11, rot: R, rich: italicRich }),
    txt('chase time after s\u2074U removal (h)', 575, 347),
    // f, g
    txt('RNA-seq log2 PHF3 KO / WT', 289, 474, { rot: R }),
    txt('half life log2 PHF3 KO / WT', 433, 574),
    txt('RNA-seq log2 PHF3 ΔSPOC / WT', 289, 695, { rot: R }),
    txt('half life log2 PHF3 ΔSPOC / WT', 433, 795),
    // h, i
    txt('Elongation rate t10-t0', 577, 462, { rot: R }),
    txt('log2 PHF3 KO / WT', 591, 462, { rot: R }),
    txt('half life log2 PHF3 KO / WT', 712, 572),
    txt('Elongation rate t10-t0', 577, 682, { rot: R }),
    txt('log2 ΔSPOC / WT', 591, 682, { rot: R }),
    txt('half life log2 PHF3 ΔSPOC / WT', 713, 792),
  ];

  return {
    animation: false,
    backgroundColor: '#ffffff',
    textStyle: { fontFamily: FONT },
    grid: grids,
    xAxis,
    yAxis,
    series,
    graphic,
  };
}

export default function App() {
  const ref = useRef<HTMLDivElement>(null);
  useEffect(() => {
    document.body.style.margin = '0';
    if (!ref.current) return;
    const chart = echarts.init(ref.current, undefined, { renderer: 'svg' });
    chart.setOption(buildOption() as any);
    return () => chart.dispose();
  }, []);
  return <div ref={ref} style={{ width: 797, height: 802 }} />;
}
